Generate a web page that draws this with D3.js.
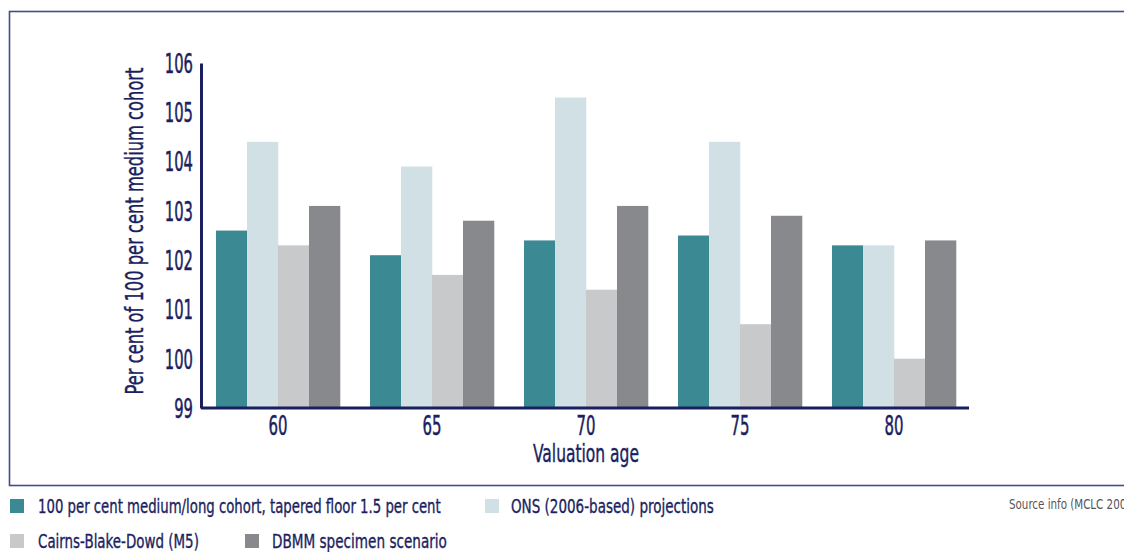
<!DOCTYPE html>
<html>
<head>
<meta charset="utf-8">
<script src="https://cdn.jsdelivr.net/npm/d3@7"></script>
<style>
  body { margin: 0; background: #fff; }
  svg text { font-family: "Liberation Sans Narrow", "DejaVu Sans Condensed", "Liberation Sans", sans-serif; }
</style>
</head>
<body>
<div id="chart"></div>
<script>
// chart data
const ages = ["60", "65", "70", "75", "80"];
const seriesNames = [
    "100 per cent medium/long cohort, tapered floor 1.5 per cent",
    "ONS (2006-based) projections",
    "Cairns-Blake-Dowd (M5)",
    "DBMM specimen scenario"
];
const cohortValues = [102.6, 102.1, 102.4, 102.5, 102.3];
const onsValues = [104.4, 103.9, 105.3, 104.4, 102.3];
const cbdValues = [102.3, 101.7, 101.4, 100.7, 100.0];
const dbmmValues = [103.1, 102.8, 103.1, 102.9, 102.4];
const yTicks = [99, 100, 101, 102, 103, 104, 105, 106];
const seriesColors = ["#3b8993", "#d0e0e4", "#c8c9cb", "#88898d"];

const allSeries = [cohortValues, onsValues, cbdValues, dbmmValues];

const width = 1124;
const height = 552;
const navy = "#1b1f5f";

const svg = d3.select("#chart")
    .append("svg")
    .attr("width", width)
    .attr("height", height);

// squeeze a text horizontally so it takes the wanted width (the original uses a condensed face)
// x, y is the anchor point of the text
function squeeze(textSel, x, y, wanted) {
    textSel.each(function () {
        const natural = this.getComputedTextLength();
        const s = natural > 0 ? wanted / natural : 1;
        d3.select(this)
            .attr("x", 0)
            .attr("y", 0)
            .attr("transform", `translate(${x},${y}) scale(${s},1)`);
    });
}

// outer frame (runs off the right edge like the original)
svg.append("rect")
    .attr("x", 9.5)
    .attr("y", 11.5)
    .attr("width", 1140)
    .attr("height", 474)
    .attr("fill", "none")
    .attr("stroke", "#434d8c")
    .attr("stroke-width", 1.6);

// scales
const xScale = d3.scaleBand()
    .domain(ages)
    .range([201, 971])
    .paddingInner(0.195)
    .paddingOuter(0.0975);

const xInner = d3.scaleBand()
    .domain(d3.range(seriesNames.length))
    .range([0, xScale.bandwidth()]);

const yScale = d3.scaleLinear()
    .domain([99, 106])
    .range([408, 63]);

// bars
const groups = svg.selectAll(".age-group")
    .data(ages)
    .join("g")
    .attr("class", "age-group")
    .attr("transform", d => `translate(${xScale(d)},0)`);

groups.selectAll("rect")
    .data((d, i) => allSeries.map((s, k) => ({k: k, value: s[i]})))
    .join("rect")
    .attr("x", d => xInner(d.k))
    .attr("width", xInner.bandwidth() + 0.3)
    .attr("y", d => yScale(d.value))
    .attr("height", d => yScale(99) - yScale(d.value))
    .attr("fill", d => seriesColors[d.k]);

// y axis
const yAxis = svg.append("g")
    .attr("transform", "translate(201,0)")
    .call(d3.axisLeft(yScale).tickValues(yTicks).tickFormat(d3.format("d")).tickSize(0).tickPadding(9));
yAxis.select(".domain").attr("stroke", navy).attr("stroke-width", 3);
yAxis.selectAll("text")
    .attr("fill", navy)
    .attr("stroke", navy)
    .attr("stroke-width", 0.5)
    .attr("font-size", 26)
    .attr("dy", "0.36em")
    .each(function (d) {
        squeeze(d3.select(this), -8, 0, String(d).length * 9.4);
    });

// x axis
const xAxis = svg.append("g")
    .attr("transform", "translate(0,408)")
    .call(d3.axisBottom(xScale).tickSize(0).tickPadding(0));
xAxis.select(".domain")
    .attr("d", "M201,0H969")
    .attr("stroke", navy)
    .attr("stroke-width", 3);
xAxis.selectAll("text")
    .attr("fill", navy)
    .attr("stroke", navy)
    .attr("stroke-width", 0.5)
    .attr("font-size", 26)
    .attr("dy", null)
    .each(function () {
        squeeze(d3.select(this), 0, 27, 19);
    });

// axis titles
const yTitle = svg.append("g")
    .attr("transform", "translate(143,231) rotate(-90)")
    .append("text")
    .attr("text-anchor", "middle")
    .attr("fill", navy)
    .attr("stroke", navy)
    .attr("stroke-width", 0.4)
    .attr("font-size", 25)
    .text("Per cent of 100 per cent medium cohort");
squeeze(yTitle, 0, 0, 327);

const xTitle = svg.append("text")
    .attr("text-anchor", "middle")
    .attr("fill", navy)
    .attr("stroke", navy)
    .attr("stroke-width", 0.4)
    .attr("font-size", 24)
    .text("Valuation age");
squeeze(xTitle, 586, 462, 106);

// legend
const legendPos = [
    {x: 10, y: 499, tx: 38, tw: 403},
    {x: 485, y: 499, tx: 511, tw: 203},
    {x: 10, y: 534, tx: 38, tw: 161},
    {x: 245, y: 534, tx: 272, tw: 175}
];

const legend = svg.selectAll(".legend-item")
    .data(seriesNames)
    .join("g")
    .attr("class", "legend-item")
    .attr("transform", (d, i) => `translate(${legendPos[i].x},${legendPos[i].y})`);

legend.append("rect")
    .attr("width", 14)
    .attr("height", 14)
    .attr("fill", (d, i) => seriesColors[i]);

legend.append("text")
    .attr("fill", navy)
    .attr("stroke", navy)
    .attr("stroke-width", 0.35)
    .attr("font-size", 19)
    .text(d => d)
    .each(function (d, i) {
        squeeze(d3.select(this), legendPos[i].tx - legendPos[i].x, 14, legendPos[i].tw);
    });

// source note, clipped by the page edge
const source = svg.append("text")
    .attr("fill", "#555559")
    .attr("font-size", 14)
    .text("Source info (MCLC 2008)");
squeeze(source, 1009, 509, 128);
</script>
</body>
</html>
